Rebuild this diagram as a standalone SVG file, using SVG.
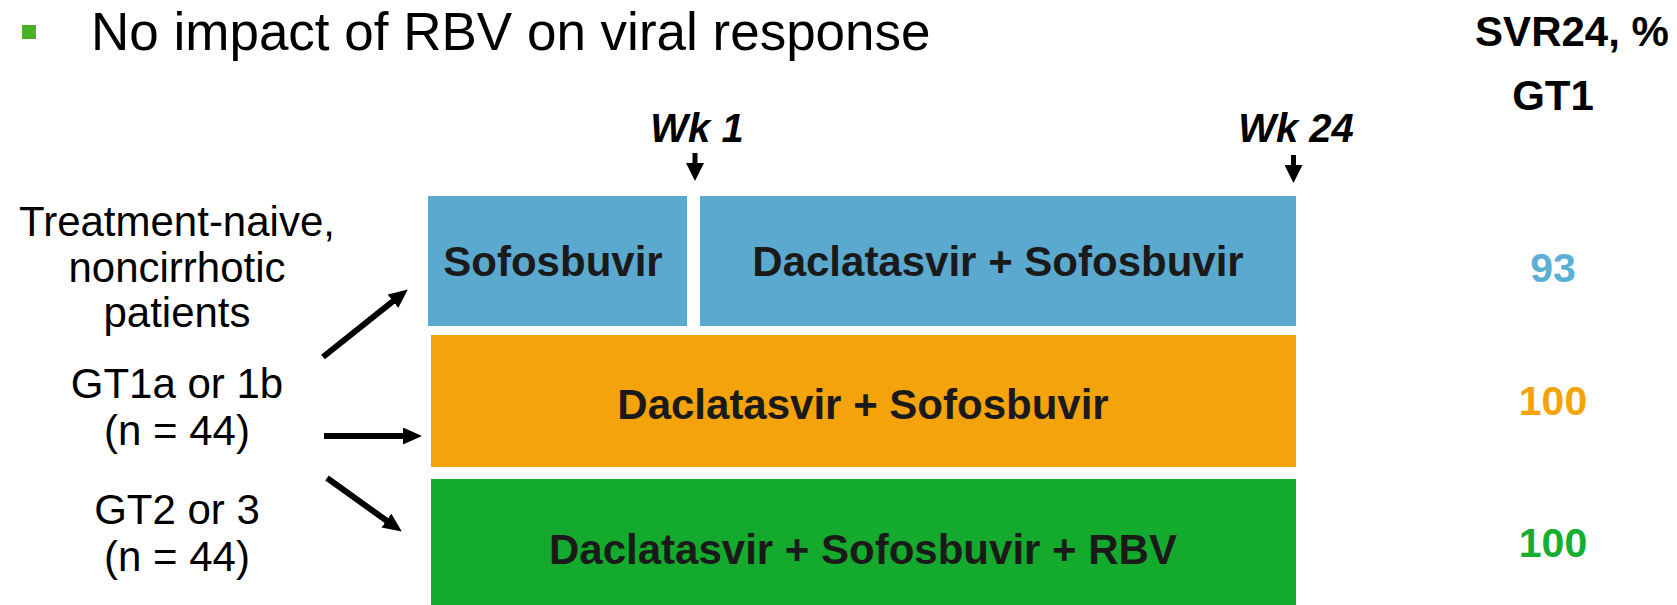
<svg xmlns="http://www.w3.org/2000/svg" width="1677" height="605" viewBox="0 0 1677 605">
<style>
  text { font-family: "Liberation Sans", Arial, sans-serif; }
  .title { font-size: 53px; fill: #000; }
  .left { font-size: 42px; fill: #000; text-anchor: middle; }
  .hdr { font-size: 42px; font-weight: bold; fill: #000; text-anchor: middle; }
  .wk { font-size: 40px; font-weight: bold; font-style: italic; fill: #000; text-anchor: middle; }
  .lbl { font-size: 42px; font-weight: bold; fill: #1a1a1a; text-anchor: middle; }
  .num { font-size: 41px; font-weight: bold; text-anchor: middle; }
  .conn { stroke: #000; fill: none; }
</style>
<defs>
  <marker id="ah" markerUnits="userSpaceOnUse" markerWidth="19" markerHeight="17" refX="3" refY="8.5" orient="auto">
    <path d="M0,0 L19,8.5 L0,17 z" fill="#000"/>
  </marker>
  <marker id="ahs" markerUnits="userSpaceOnUse" markerWidth="18" markerHeight="18" refX="2" refY="9" orient="auto">
    <path d="M0,0 L18,9 L0,18 z" fill="#000"/>
  </marker>
</defs>

<g id="title">
  <rect x="22" y="25" width="14" height="14" fill="#4CAF28"/>
  <text class="title" x="91" y="50">No impact of RBV on viral response</text>
</g>

<g id="header">
  <text class="hdr" x="1572" y="46">SVR24, %</text>
  <text class="hdr" x="1553" y="110">GT1</text>
</g>

<g id="week-labels">
  <text class="wk" x="697" y="142">Wk 1</text>
  <text class="wk" x="1296" y="142">Wk 24</text>
</g>

<g id="population">
  <text class="left" x="177" y="236">Treatment-naive,</text>
  <text class="left" x="177" y="282">noncirrhotic</text>
  <text class="left" x="177" y="327">patients</text>
  <text class="left" x="177" y="398">GT1a or 1b</text>
  <text class="left" x="177" y="445">(n = 44)</text>
  <text class="left" x="177" y="524">GT2 or 3</text>
  <text class="left" x="177" y="571">(n = 44)</text>
</g>

<g id="arm1-sof">
  <rect x="428" y="196" width="259" height="130" fill="#5BA9CF"/>
  <text class="lbl" x="553" y="276">Sofosbuvir</text>
</g>
<g id="arm1-dcv-sof">
  <rect x="700" y="196" width="596" height="130" fill="#5BA9CF"/>
  <text class="lbl" x="998" y="276">Daclatasvir + Sofosbuvir</text>
</g>
<g id="arm2">
  <rect x="431" y="335" width="865" height="132" fill="#F5A30A"/>
  <text class="lbl" x="863" y="419">Daclatasvir + Sofosbuvir</text>
</g>
<g id="arm3">
  <rect x="431" y="479" width="865" height="126" fill="#14AA2D"/>
  <text class="lbl" x="863" y="564">Daclatasvir + Sofosbuvir + RBV</text>
</g>

<g id="results">
  <text class="num" x="1553" y="282" fill="#5BAED4">93</text>
  <text class="num" x="1553" y="415" fill="#F5A30A">100</text>
  <text class="num" x="1553" y="557" fill="#16AE31">100</text>
</g>

<g id="connectors">
  <line class="conn" x1="323" y1="357" x2="395.3" y2="299.4" stroke-width="6" marker-end="url(#ah)"/>
  <line class="conn" x1="324" y1="436" x2="406" y2="436" stroke-width="6" marker-end="url(#ah)"/>
  <line class="conn" x1="327" y1="478" x2="388.8" y2="522.3" stroke-width="6" marker-end="url(#ah)"/>
  <line class="conn" x1="695" y1="153" x2="695" y2="165" stroke-width="5" marker-end="url(#ahs)"/>
  <line class="conn" x1="1293.5" y1="155" x2="1293.5" y2="167" stroke-width="5" marker-end="url(#ahs)"/>
</g>
</svg>
